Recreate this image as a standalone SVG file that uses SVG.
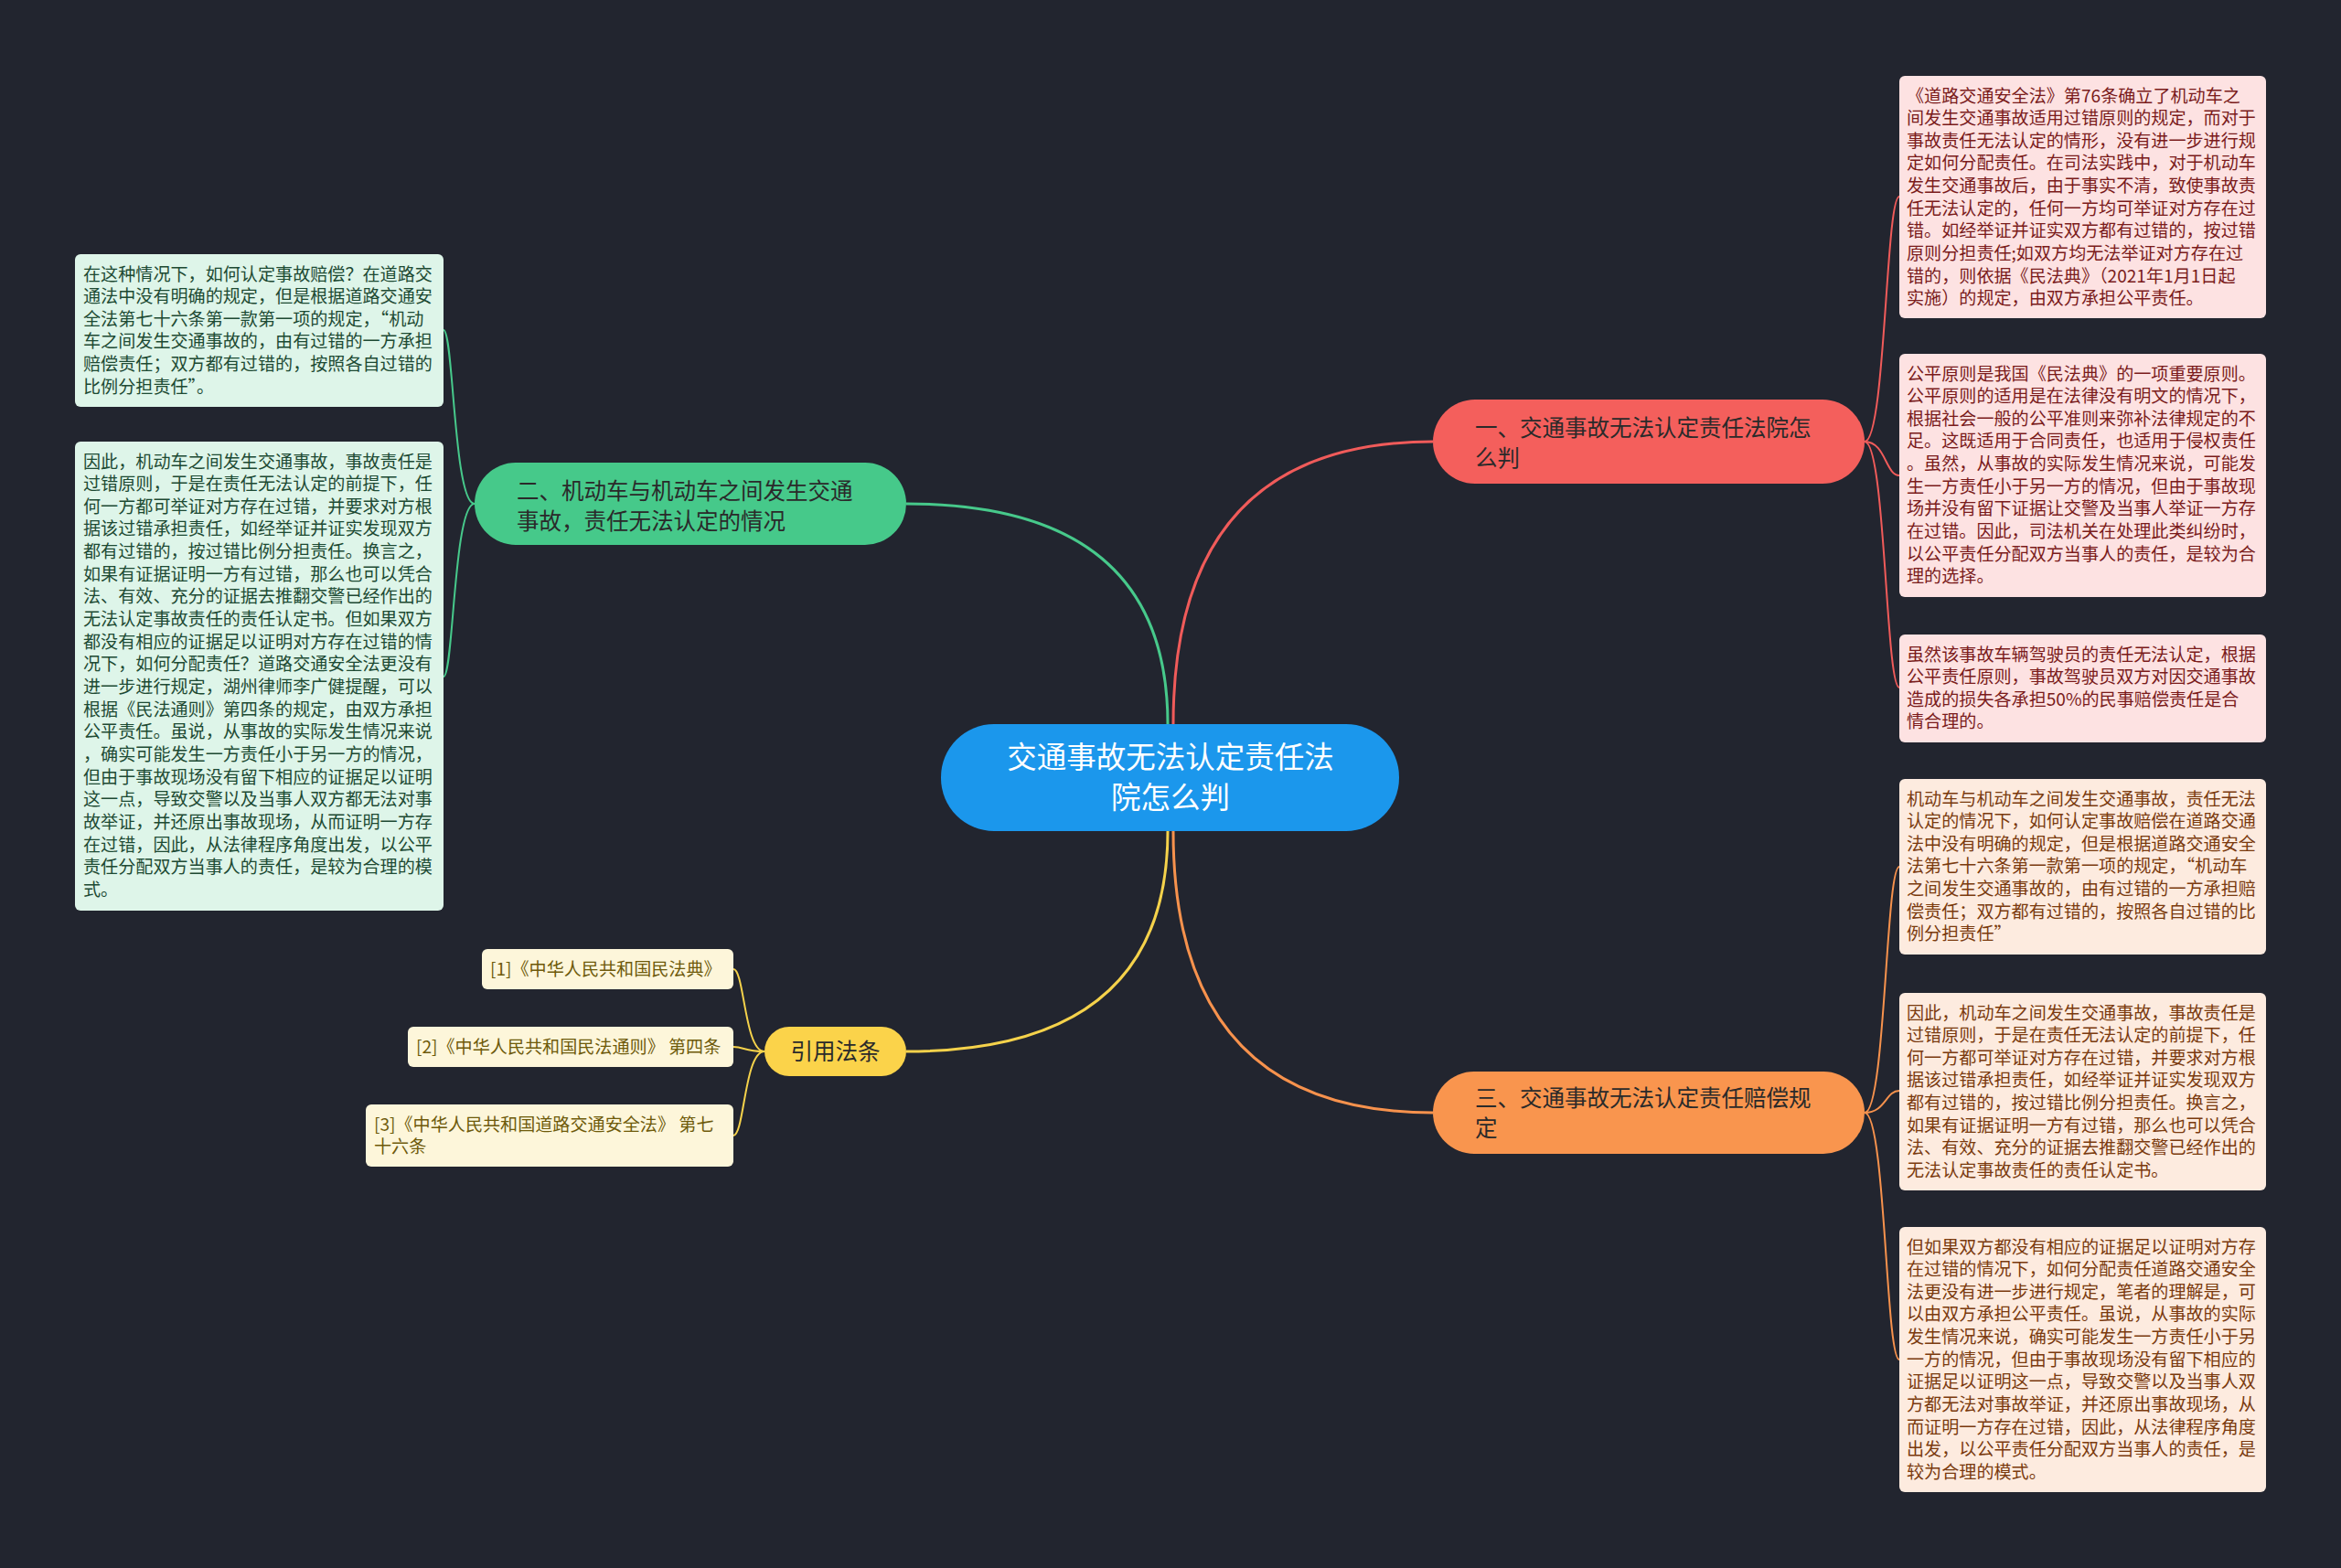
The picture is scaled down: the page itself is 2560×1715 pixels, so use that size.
<svg xmlns="http://www.w3.org/2000/svg" width="2560" height="1715" viewBox="0 0 2560 1715">
<style>
text{font-family:"Noto Sans CJK SC","Noto Sans",sans-serif}
.leaf{font-size:19.1px}
.br{font-size:24.5px;fill:#2a2a2a}
.ctr{font-size:32.5px;fill:#ffffff;text-anchor:middle}
.main{fill:none;stroke-width:3}
.sub{fill:none;stroke-width:2}
.rbox{fill:#fde2e2}.rt{fill:#7a1b1b}
.obox{fill:#fdebdf}.ot{fill:#7a3a0e}
.gbox{fill:#def5e9}.gt{fill:#1d4a33}
.ybox{fill:#fdf6da}.yt{fill:#6e5a0a}
</style>
<rect x="0" y="0" width="2560" height="1715" fill="#22252f"/>
<g id="connectors">
<path class="main" stroke="#f05b5a" d="M 1283 792 Q 1283 483 1567 483"/>
<path class="main" stroke="#47c98b" d="M 1277 792 Q 1277 551 991 551"/>
<path class="main" stroke="#f5d24b" d="M 1277 909 Q 1277 1150 991 1150"/>
<path class="main" stroke="#f7924d" d="M 1283 909 Q 1283 1217 1567 1217"/>
<path class="sub" stroke="#f05b5a" d="M 2039 483 C 2062 483 2062 215 2077 215"/>
<path class="sub" stroke="#f05b5a" d="M 2039 483 C 2062 483 2062 520 2077 520"/>
<path class="sub" stroke="#f05b5a" d="M 2039 483 C 2062 483 2062 752 2077 752"/>
<path class="sub" stroke="#f7924d" d="M 2039 1217 C 2062 1217 2062 948 2077 948"/>
<path class="sub" stroke="#f7924d" d="M 2039 1217 C 2062 1217 2062 1193 2077 1193"/>
<path class="sub" stroke="#f7924d" d="M 2039 1217 C 2062 1217 2062 1487 2077 1487"/>
<path class="sub" stroke="#47c98b" d="M 519 551 C 496 551 496 361 485 361"/>
<path class="sub" stroke="#47c98b" d="M 519 551 C 496 551 496 740 485 740"/>
<path class="sub" stroke="#f5d24b" d="M 836 1150 C 814 1150 814 1060 802 1060"/>
<path class="sub" stroke="#f5d24b" d="M 836 1150 C 814 1150 814 1145 802 1145"/>
<path class="sub" stroke="#f5d24b" d="M 836 1150 C 814 1150 814 1242 802 1242"/>
</g>
<g id="center">
<rect x="1029" y="792" width="501" height="117" rx="58" fill="#1b97ec"/>
<text class="ctr"><tspan x="1280" y="840">交通事故无法认定责任法</tspan><tspan x="1280" y="884">院怎么判</tspan></text>
</g>
<g id="branch1">
<rect x="1567" y="437" width="472" height="92" rx="46" fill="#f45f5c"/>
<text class="br"><tspan x="1613" y="477">一、交通事故无法认定责任法院怎</tspan><tspan x="1613" y="510">么判</tspan></text>
</g>
<g id="branch2">
<rect x="519" y="506" width="472" height="90" rx="45" fill="#46c98a"/>
<text class="br"><tspan x="565" y="546">二、机动车与机动车之间发生交通</tspan><tspan x="565" y="579">事故，责任无法认定的情况</tspan></text>
</g>
<g id="branch3">
<rect x="1567" y="1172" width="472" height="90" rx="45" fill="#f9954e"/>
<text class="br"><tspan x="1613" y="1210">三、交通事故无法认定责任赔偿规</tspan><tspan x="1613" y="1243">定</tspan></text>
</g>
<g id="branch4">
<rect x="836" y="1123" width="155" height="54" rx="27" fill="#fbd34a"/>
<text class="br" text-anchor="middle" x="913.5" y="1158.5">引用法条</text>
</g>
<g id="r1">
<rect class="rbox" x="2077" y="83" width="401" height="265" rx="6"/>
<text class="leaf rt">
<tspan x="2085" y="111.5">《道路交通安全法》第76条确立了机动车之</tspan>
<tspan x="2085" y="136.15">间发生交通事故适用过错原则的规定，而对于</tspan>
<tspan x="2085" y="160.8">事故责任无法认定的情形，没有进一步进行规</tspan>
<tspan x="2085" y="185.45">定如何分配责任。在司法实践中，对于机动车</tspan>
<tspan x="2085" y="210.1">发生交通事故后，由于事实不清，致使事故责</tspan>
<tspan x="2085" y="234.75">任无法认定的，任何一方均可举证对方存在过</tspan>
<tspan x="2085" y="259.4">错。如经举证并证实双方都有过错的，按过错</tspan>
<tspan x="2085" y="284.05">原则分担责任;如双方均无法举证对方存在过</tspan>
<tspan x="2085" y="308.7">错的，则依据《民法典》（2021年1月1日起</tspan>
<tspan x="2085" y="333.35">实施）的规定，由双方承担公平责任。</tspan>
</text>
</g>
<g id="r2">
<rect class="rbox" x="2077" y="387" width="401" height="266" rx="6"/>
<text class="leaf rt">
<tspan x="2085" y="415.5">公平原则是我国《民法典》的一项重要原则。</tspan>
<tspan x="2085" y="440.15">公平原则的适用是在法律没有明文的情况下，</tspan>
<tspan x="2085" y="464.8">根据社会一般的公平准则来弥补法律规定的不</tspan>
<tspan x="2085" y="489.45">足。这既适用于合同责任，也适用于侵权责任</tspan>
<tspan x="2085" y="514.1">。虽然，从事故的实际发生情况来说，可能发</tspan>
<tspan x="2085" y="538.75">生一方责任小于另一方的情况，但由于事故现</tspan>
<tspan x="2085" y="563.4">场并没有留下证据让交警及当事人举证一方存</tspan>
<tspan x="2085" y="588.05">在过错。因此，司法机关在处理此类纠纷时，</tspan>
<tspan x="2085" y="612.7">以公平责任分配双方当事人的责任，是较为合</tspan>
<tspan x="2085" y="637.35">理的选择。</tspan>
</text>
</g>
<g id="r3">
<rect class="rbox" x="2077" y="694" width="401" height="118" rx="6"/>
<text class="leaf rt">
<tspan x="2085" y="722.5">虽然该事故车辆驾驶员的责任无法认定，根据</tspan>
<tspan x="2085" y="747.15">公平责任原则，事故驾驶员双方对因交通事故</tspan>
<tspan x="2085" y="771.8">造成的损失各承担50%的民事赔偿责任是合</tspan>
<tspan x="2085" y="796.45">情合理的。</tspan>
</text>
</g>
<g id="r4">
<rect class="obox" x="2077" y="852" width="401" height="192" rx="6"/>
<text class="leaf ot">
<tspan x="2085" y="880.5">机动车与机动车之间发生交通事故，责任无法</tspan>
<tspan x="2085" y="905.15">认定的情况下，如何认定事故赔偿在道路交通</tspan>
<tspan x="2085" y="929.8">法中没有明确的规定，但是根据道路交通安全</tspan>
<tspan x="2085" y="954.45">法第七十六条第一款第一项的规定，“机动车</tspan>
<tspan x="2085" y="979.1">之间发生交通事故的，由有过错的一方承担赔</tspan>
<tspan x="2085" y="1003.75">偿责任；双方都有过错的，按照各自过错的比</tspan>
<tspan x="2085" y="1028.4">例分担责任”</tspan>
</text>
</g>
<g id="r5">
<rect class="obox" x="2077" y="1086" width="401" height="216" rx="6"/>
<text class="leaf ot">
<tspan x="2085" y="1114.5">因此，机动车之间发生交通事故，事故责任是</tspan>
<tspan x="2085" y="1139.15">过错原则，于是在责任无法认定的前提下，任</tspan>
<tspan x="2085" y="1163.8">何一方都可举证对方存在过错，并要求对方根</tspan>
<tspan x="2085" y="1188.45">据该过错承担责任，如经举证并证实发现双方</tspan>
<tspan x="2085" y="1213.1">都有过错的，按过错比例分担责任。换言之，</tspan>
<tspan x="2085" y="1237.75">如果有证据证明一方有过错，那么也可以凭合</tspan>
<tspan x="2085" y="1262.4">法、有效、充分的证据去推翻交警已经作出的</tspan>
<tspan x="2085" y="1287.05">无法认定事故责任的责任认定书。</tspan>
</text>
</g>
<g id="r6">
<rect class="obox" x="2077" y="1342" width="401" height="290" rx="6"/>
<text class="leaf ot">
<tspan x="2085" y="1370.5">但如果双方都没有相应的证据足以证明对方存</tspan>
<tspan x="2085" y="1395.15">在过错的情况下，如何分配责任道路交通安全</tspan>
<tspan x="2085" y="1419.8">法更没有进一步进行规定，笔者的理解是，可</tspan>
<tspan x="2085" y="1444.45">以由双方承担公平责任。虽说，从事故的实际</tspan>
<tspan x="2085" y="1469.1">发生情况来说，确实可能发生一方责任小于另</tspan>
<tspan x="2085" y="1493.75">一方的情况，但由于事故现场没有留下相应的</tspan>
<tspan x="2085" y="1518.4">证据足以证明这一点，导致交警以及当事人双</tspan>
<tspan x="2085" y="1543.05">方都无法对事故举证，并还原出事故现场，从</tspan>
<tspan x="2085" y="1567.7">而证明一方存在过错，因此，从法律程序角度</tspan>
<tspan x="2085" y="1592.35">出发，以公平责任分配双方当事人的责任，是</tspan>
<tspan x="2085" y="1617">较为合理的模式。</tspan>
</text>
</g>
<g id="l1">
<rect class="gbox" x="82" y="278" width="403" height="167" rx="6"/>
<text class="leaf gt">
<tspan x="91" y="306.5">在这种情况下，如何认定事故赔偿？在道路交</tspan>
<tspan x="91" y="331.15">通法中没有明确的规定，但是根据道路交通安</tspan>
<tspan x="91" y="355.8">全法第七十六条第一款第一项的规定，“机动</tspan>
<tspan x="91" y="380.45">车之间发生交通事故的，由有过错的一方承担</tspan>
<tspan x="91" y="405.1">赔偿责任；双方都有过错的，按照各自过错的</tspan>
<tspan x="91" y="429.75">比例分担责任”。</tspan>
</text>
</g>
<g id="l2">
<rect class="gbox" x="82" y="483" width="403" height="513" rx="6"/>
<text class="leaf gt">
<tspan x="91" y="511.5">因此，机动车之间发生交通事故，事故责任是</tspan>
<tspan x="91" y="536.15">过错原则，于是在责任无法认定的前提下，任</tspan>
<tspan x="91" y="560.8">何一方都可举证对方存在过错，并要求对方根</tspan>
<tspan x="91" y="585.45">据该过错承担责任，如经举证并证实发现双方</tspan>
<tspan x="91" y="610.1">都有过错的，按过错比例分担责任。换言之，</tspan>
<tspan x="91" y="634.75">如果有证据证明一方有过错，那么也可以凭合</tspan>
<tspan x="91" y="659.4">法、有效、充分的证据去推翻交警已经作出的</tspan>
<tspan x="91" y="684.05">无法认定事故责任的责任认定书。但如果双方</tspan>
<tspan x="91" y="708.7">都没有相应的证据足以证明对方存在过错的情</tspan>
<tspan x="91" y="733.35">况下，如何分配责任？道路交通安全法更没有</tspan>
<tspan x="91" y="758">进一步进行规定，湖州律师李广健提醒，可以</tspan>
<tspan x="91" y="782.65">根据《民法通则》第四条的规定，由双方承担</tspan>
<tspan x="91" y="807.3">公平责任。虽说，从事故的实际发生情况来说</tspan>
<tspan x="91" y="831.95">，确实可能发生一方责任小于另一方的情况，</tspan>
<tspan x="91" y="856.6">但由于事故现场没有留下相应的证据足以证明</tspan>
<tspan x="91" y="881.25">这一点，导致交警以及当事人双方都无法对事</tspan>
<tspan x="91" y="905.9">故举证，并还原出事故现场，从而证明一方存</tspan>
<tspan x="91" y="930.55">在过错，因此，从法律程序角度出发，以公平</tspan>
<tspan x="91" y="955.2">责任分配双方当事人的责任，是较为合理的模</tspan>
<tspan x="91" y="979.85">式。</tspan>
</text>
</g>
<g id="c1">
<rect class="ybox" x="527" y="1038" width="275" height="44" rx="6"/>
<text class="leaf yt" x="536" y="1066.5">[1]《中华人民共和国民法典》</text>
</g>
<g id="c2">
<rect class="ybox" x="446" y="1123" width="356" height="44" rx="6"/>
<text class="leaf yt" x="455" y="1151.5">[2]《中华人民共和国民法通则》 第四条</text>
</g>
<g id="c3">
<rect class="ybox" x="400" y="1208" width="402" height="68" rx="6"/>
<text class="leaf yt"><tspan x="409" y="1236.5">[3]《中华人民共和国道路交通安全法》 第七</tspan><tspan x="409" y="1261.15">十六条</tspan></text>
</g>
</svg>
